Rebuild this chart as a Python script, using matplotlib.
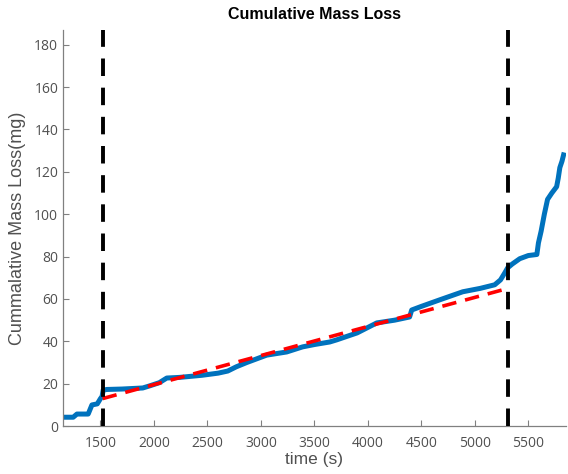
import matplotlib.pyplot as plt

# cumulative mass loss
time_s = [1150, 1245, 1280, 1385, 1420, 1470, 1500, 1515, 1525, 1560,
          1700, 1895, 1960, 2050, 2120, 2240, 2450, 2600, 2690, 2770,
          2867, 3054, 3241, 3390, 3500, 3643, 3708, 3900, 4083, 4250,
          4390, 4410, 4500, 4672, 4887, 5050, 5186, 5240, 5280, 5307,
          5350, 5420, 5500, 5580, 5595, 5620, 5650, 5680, 5720, 5765,
          5780, 5795, 5815, 5830]
mass_mg = [4.2, 4.2, 5.7, 5.7, 10, 10.5, 13, 14, 17, 17.3,
           17.5, 18, 19, 20.5, 22.7, 23, 24, 25, 26, 28,
           30, 33.5, 35, 37.4, 38.5, 39.7, 40.7, 44, 48.7, 50,
           51.5, 54.8, 56.5, 59.6, 63.4, 65, 66.7, 69, 72.3, 74.7,
           76.5, 79, 80.5, 81, 86.5, 92, 100, 107, 110, 113,
           117, 122, 125, 128]

fit_t = [1520, 5310]
fit_m = [13, 65]

vlines = [1520, 5310]

fig = plt.figure(figsize=(5.68, 4.74), dpi=100)
ax = fig.add_axes([0.111, 0.101, 0.885, 0.836])

ax.plot(time_s, mass_mg, color='#0072BD', lw=3.6, solid_joinstyle='round', zorder=2)
ax.plot(fit_t, fit_m, color='red', lw=2.6, ls=(0, (4, 2.5)), zorder=3)
for v in vlines:
    ax.axvline(v, color='black', lw=2.8, ls=(0, (4.5, 3)), zorder=4)

ax.set_xlim(1150, 5850)
ax.set_ylim(0, 187)
ax.set_xticks([1500, 2000, 2500, 3000, 3500, 4000, 4500, 5000, 5500])
ax.set_yticks(range(0, 181, 20))

for s in ['top', 'right']:
    ax.spines[s].set_visible(False)
for s in ['left', 'bottom']:
    ax.spines[s].set_color('#808080')
    ax.spines[s].set_linewidth(0.9)
ax.tick_params(colors='#808080', labelcolor='#505050', labelsize=10,
               length=4, direction='in')
ax.tick_params(axis='x', pad=7)
for lbl in ax.get_xticklabels() + ax.get_yticklabels():
    lbl.set_family('Open Sans')

ax.set_title('Cumulative Mass Loss', fontsize=11.5, fontweight='bold',
             family='Liberation Sans', pad=8)
ax.set_xlabel('time (s)', fontsize=12.5, color='#505050', family='Liberation Sans',
              labelpad=1)
ax.set_ylabel('Cummalative Mass Loss(mg)', fontsize=13, color='#505050',
              family='Liberation Sans', labelpad=6)

fig.savefig('out.png', dpi=100)
